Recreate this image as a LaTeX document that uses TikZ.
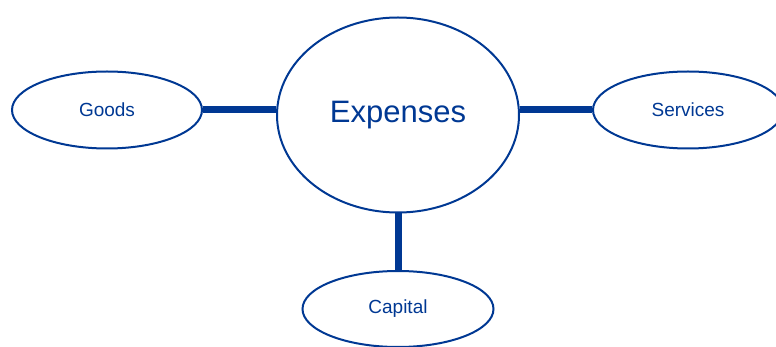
\documentclass[tikz,border=0pt]{standalone}
\usepackage{fontspec}
\setmainfont{Liberation Sans}
\usetikzlibrary{shapes.geometric}
\definecolor{navy}{RGB}{0,56,147}

\begin{document}
\begin{tikzpicture}[x=1pt,y=-1pt,
		bubble/.style={ellipse,draw=navy,line width=2pt,text=navy,inner sep=0pt},
		link/.style={draw=navy,line width=7pt}]
		\useasboundingbox (0,0) rectangle (776,347);
		\node[bubble,minimum width=242pt,minimum height=195pt,font=\fontsize{31}{36}\selectfont] (expenses) at (398,115) {Expenses};
		\node[bubble,minimum width=190pt,minimum height=77pt,font=\fontsize{19}{22}\selectfont] (goods) at (107,110) {Goods};
		\node[bubble,minimum width=190pt,minimum height=77pt,font=\fontsize{19}{22}\selectfont] (services) at (688,110) {Services};
		\node[bubble,minimum width=191pt,minimum height=76pt,font=\fontsize{19}{22}\selectfont] (capital) at (398,309) {Capital};
		
		\draw[link] (goods.east) -- (goods.east -| expenses.west);
		\draw[link] (services.west -| expenses.east) -- (services.west);
		\draw[link] (expenses.south) -- (capital.north);
		\end{tikzpicture}
\end{document}
